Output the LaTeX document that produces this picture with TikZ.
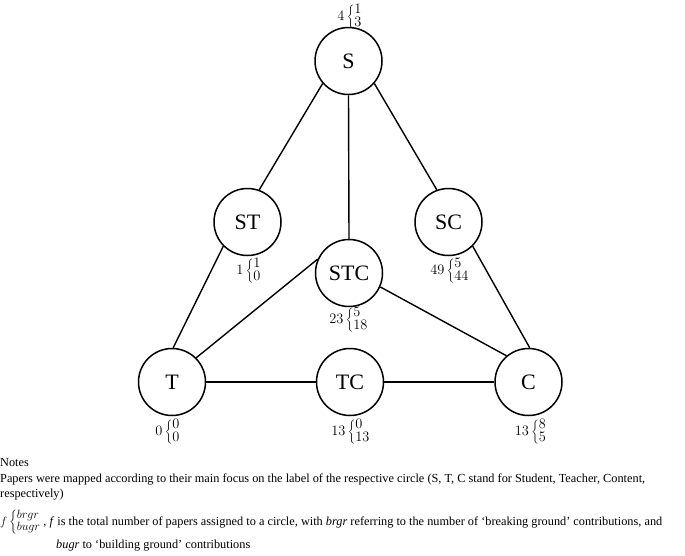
\documentclass[tikz,border=0pt]{standalone}
\usepackage{fontspec}
\setmainfont{Liberation Serif}
\newcommand{\cnt}[3]{$#1\left\{\begin{array}{@{}l@{}}#2\\#3\end{array}\right.$}
\begin{document}
\begin{tikzpicture}[x=1pt,y=-1pt,
  circ/.style={draw,circle,line width=1.5pt,minimum size=67pt,inner sep=0pt,font=\fontsize{22}{24}\selectfont},
  conn/.style={line width=1.4pt},
  lab/.style={inner sep=0pt,font=\fontsize{14.4}{12}\selectfont},
  note/.style={anchor=west,inner sep=0pt,font=\fontsize{12.3}{14}\selectfont}]
\useasboundingbox (0,0) rectangle (685,555);
\node[circ] (S) at (348.5,61) {S};
\node[circ] (ST) at (247.5,222) {ST};
\node[circ] (SC) at (448.5,222) {SC};
\node[circ] (STC) at (349,273) {STC};
\node[circ] (T) at (172,382) {T};
\node[circ] (TC) at (350,382) {TC};
\node[circ] (C) at (528.5,382) {C};
\draw[conn] (S.221) -- (ST.70);
\draw[conn] (S.-41) -- (SC.110);
\draw[conn] (S.south) -- (STC.north);
\draw[conn] (ST.225) -- (T.88);
\draw[conn] (SC.-45) -- (C.88);
\draw[conn] (STC.156) -- (T.45);
\draw[conn] (STC.-24) -- (C.130);
\draw[conn] (T.east) -- (TC.west);
\draw[conn] (TC.east) -- (C.west);
\node[lab] (lS) at (350,17) {\cnt{4}{1}{3}};
\node[lab] (lST) at (249,271) {\cnt{1}{1}{0}};
\node[lab] (lSC) at (450,271) {\cnt{49}{5}{44}};
\node[lab] (lSTC) at (349,320) {\cnt{23}{5}{18}};
\node[lab] (lT) at (168,432) {\cnt{0}{0}{0}};
\node[lab] (lTC) at (351,432) {\cnt{13}{0}{13}};
\node[lab] (lC) at (531,432) {\cnt{13}{8}{5}};
\node[note] (n1) at (0,463) {Notes};
\node[note] (n2) at (0,479) {Papers were mapped according to their main focus on the label of the respective circle (S, T, C stand for Student, Teacher, Content,};
\node[note] (n3) at (0,494.5) {respectively)};
\node[note] (n4) at (0,522) {\fontsize{12}{10.5}\selectfont$f\left\{\begin{array}{@{}l@{}}brgr\\bugr\end{array}\right.$\fontsize{12.3}{14}\selectfont\,, \textit{f} is the total number of papers assigned to a circle, with \textit{brgr} referring to the number of ‘breaking ground’ contributions, and};
\node[note] (n5) at (56,546) {\textit{bugr} to ‘building ground’ contributions};
\end{tikzpicture}
\end{document}
